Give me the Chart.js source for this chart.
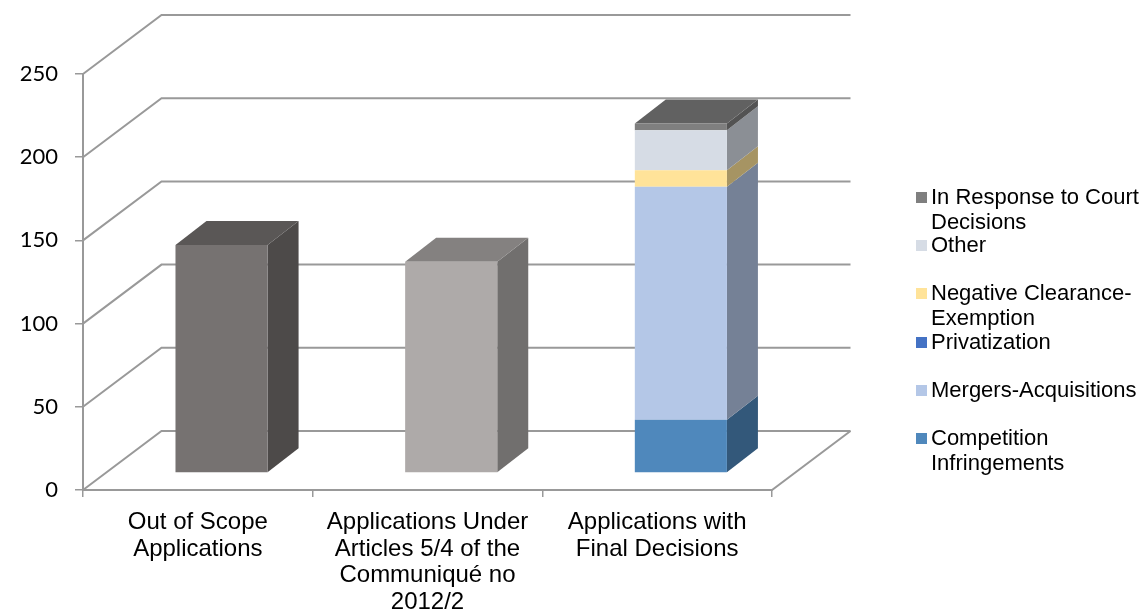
<!DOCTYPE html>
<html>
<head>
<meta charset="utf-8">
<title>Applications</title>
<script src="https://cdn.jsdelivr.net/npm/chart.js@4"></script>
<style>
html, body { margin: 0; padding: 0; background: #fff; }
canvas { display: block; }
</style>
</head>
<body>
<canvas id="chart" width="1145" height="613"></canvas>
<script>
var categories = [
    ["Out of Scope", "Applications"],
    ["Applications Under", "Articles 5/4 of the", "Communiqué no", "2012/2"],
    ["Applications with", "Final Decisions"]
];

var seriesNames = ["Competition Infringements", "Mergers-Acquisitions", "Privatization",
    "Negative Clearance-Exemption", "Other", "In Response to Court Decisions"];

var competition = [137, 127, 32];
var mergers = [0, 0, 140];
var privatization = [0, 0, 0];
var negativeClearance = [0, 0, 10];
var other = [0, 0, 24];
var courtDecisions = [0, 0, 4];

var yTicks = [0, 50, 100, 150, 200, 250];

var competitionColors = ["#767271", "#AEAAA9", "#4F88BC"];
var seriesColors = ["#4F88BC", "#B4C7E7", "#4472C4", "#FFE399", "#D6DCE5", "#7F7F7F"];

// legend rows, top to bottom, same wrapping as the picture
var legendRows = [
    { series: 5, lines: ["In Response to Court", "Decisions"], y: 198 },
    { series: 4, lines: ["Other"], y: 246 },
    { series: 3, lines: ["Negative Clearance-", "Exemption"], y: 294 },
    { series: 2, lines: ["Privatization"], y: 343 },
    { series: 1, lines: ["Mergers-Acquisitions"], y: 391 },
    { series: 0, lines: ["Competition", "Infringements"], y: 439 }
];

var wallDepth = { x: 78.5, y: -59 };
var barShift = { x: 23.7, y: -17 };
var barDepth = { x: 31, y: -24 };
var lineColor = "#999999";

function shade(color, f) {
    var n = parseInt(color.slice(1), 16);
    var r = Math.round((n >> 16) * f);
    var g = Math.round(((n >> 8) & 255) * f);
    var b = Math.round((n & 255) * f);
    return "rgb(" + r + "," + g + "," + b + ")";
}

function quad(ctx, pts, color) {
    ctx.fillStyle = color;
    ctx.beginPath();
    ctx.moveTo(pts[0][0], pts[0][1]);
    for (var i = 1; i < pts.length; i++) {
        ctx.lineTo(pts[i][0], pts[i][1]);
    }
    ctx.closePath();
    ctx.fill();
}

var box3d = {
    id: "box3d",
    beforeDatasetsDraw: function (chart) {
        var ctx = chart.ctx;
        var area = chart.chartArea;
        var y = chart.scales.y;

        // back wall and left wall lines
        ctx.save();
        ctx.strokeStyle = lineColor;
        ctx.lineWidth = 2;
        yTicks.forEach(function (t) {
            var py = y.getPixelForValue(t);
            ctx.beginPath();
            ctx.moveTo(area.left, py);
            ctx.lineTo(area.left + wallDepth.x, py + wallDepth.y);
            ctx.lineTo(area.right + wallDepth.x, py + wallDepth.y);
            ctx.stroke();
        });
        // floor
        ctx.beginPath();
        ctx.moveTo(area.left, area.bottom);
        ctx.lineTo(area.right, area.bottom);
        ctx.lineTo(area.right + wallDepth.x, area.bottom + wallDepth.y);
        ctx.stroke();

        // side and top faces of the bars
        var count = categories.length;
        for (var c = 0; c < count; c++) {
            var top = null;
            chart.data.datasets.forEach(function (ds, d) {
                var el = chart.getDatasetMeta(d).data[c];
                if (!ds.data[c]) return;
                var color = Array.isArray(ds.backgroundColor) ? ds.backgroundColor[c] : ds.backgroundColor;
                var xr = el.x + el.width / 2 + barShift.x;
                var yt = el.y + barShift.y;
                var yb = el.base + barShift.y;
                quad(ctx, [[xr, yb], [xr + barDepth.x, yb + barDepth.y],
                    [xr + barDepth.x, yt + barDepth.y], [xr, yt]], shade(color, 0.65));
                top = { el: el, color: color };
            });
            if (top) {
                var xl = top.el.x - top.el.width / 2 + barShift.x;
                var xr2 = top.el.x + top.el.width / 2 + barShift.x;
                var yy = top.el.y + barShift.y;
                quad(ctx, [[xl, yy], [xr2, yy], [xr2 + barDepth.x, yy + barDepth.y],
                    [xl + barDepth.x, yy + barDepth.y]], shade(top.color, 0.76));
            }
        }
        ctx.restore();

        // front faces get drawn by chart.js, pushed off the front plane
        ctx.save();
        ctx.translate(barShift.x, barShift.y);
    },
    afterDatasetsDraw: function (chart) {
        chart.ctx.restore();
    },
    afterDraw: function (chart) {
        var ctx = chart.ctx;
        ctx.save();
        ctx.font = "22px 'Liberation Sans'";
        ctx.textBaseline = "middle";
        ctx.textAlign = "left";
        legendRows.forEach(function (row) {
            ctx.fillStyle = seriesColors[row.series];
            ctx.fillRect(916, row.y - 6, 11, 11);
            ctx.fillStyle = "#000";
            row.lines.forEach(function (line, i) {
                ctx.fillText(line, 931, row.y + i * 25);
            });
        });
        ctx.restore();
    }
};

var allSeries = [competition, mergers, privatization, negativeClearance, other, courtDecisions];

var datasets = allSeries.map(function (values, i) {
    return {
        label: seriesNames[i],
        data: values,
        backgroundColor: i == 0 ? competitionColors : seriesColors[i],
        borderWidth: 0,
        categoryPercentage: 1,
        barPercentage: 0.401
    };
});

new Chart(document.getElementById("chart"), {
    type: "bar",
    data: { labels: categories, datasets: datasets },
    plugins: [box3d],
    options: {
        responsive: false,
        animation: false,
        layout: { padding: { top: 74, right: 373, left: 0, bottom: 0 } },
        plugins: { legend: { display: false }, tooltip: { enabled: false } },
        scales: {
            x: {
                stacked: true,
                afterFit: function (scale) { scale.height = 123; },
                border: { color: lineColor, width: 2 },
                grid: { drawOnChartArea: false, color: lineColor, lineWidth: 1.5, tickLength: 7 },
                ticks: {
                    autoSkip: false, maxRotation: 0, padding: 12, color: "#000",
                    font: { family: "'Liberation Sans'", size: 24, lineHeight: 1.11 }
                }
            },
            y: {
                stacked: true,
                min: 0,
                max: 250,
                afterFit: function (scale) { scale.width = 83; },
                border: { color: lineColor, width: 2 },
                grid: { drawOnChartArea: false, color: lineColor, lineWidth: 1.5, tickLength: 8 },
                ticks: {
                    stepSize: 50, padding: 17, color: "#000",
                    font: { family: "Lato", size: 22 }
                }
            }
        }
    }
});
</script>
</body>
</html>
